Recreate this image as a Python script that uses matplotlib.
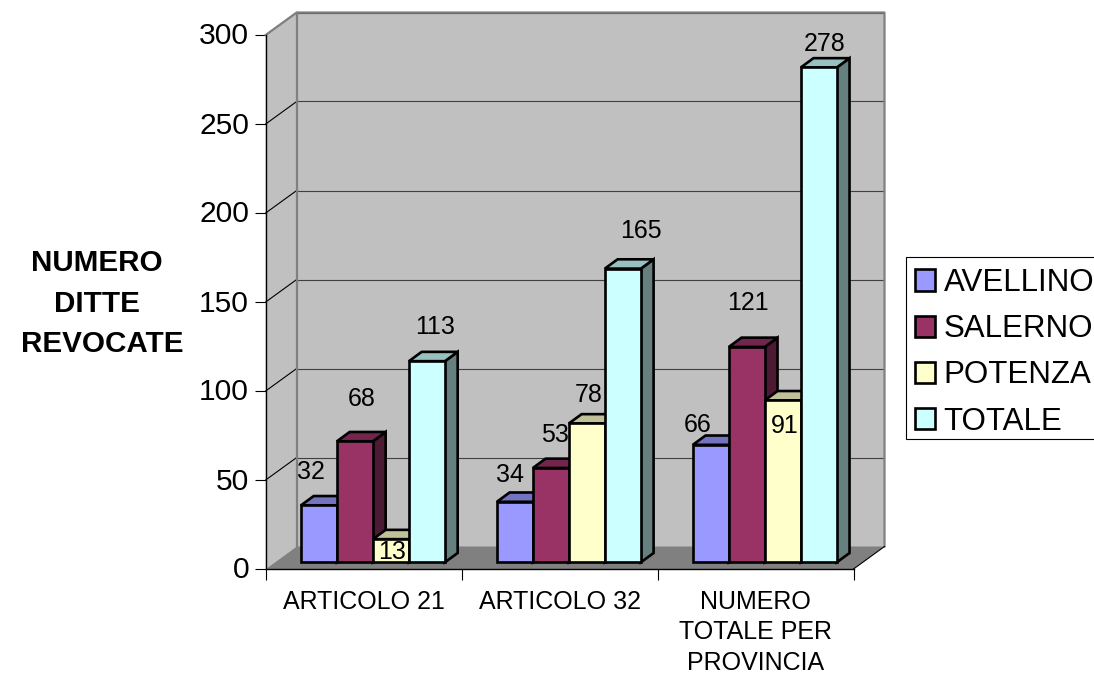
import matplotlib
matplotlib.use("Agg")
import matplotlib.pyplot as plt
from matplotlib.patches import Patch, Polygon, Rectangle
from matplotlib.transforms import ScaledTranslation

plt.rcParams['font.family'] = ['Liberation Sans', 'DejaVu Sans']

# === Data ===
categories = ["ARTICOLO 21", "ARTICOLO 32", "NUMERO\nTOTALE PER\nPROVINCIA"]
avellino = [32, 34, 66]
salerno = [68, 53, 121]
potenza = [13, 78, 91]
totale = [113, 165, 278]
series_names = ["AVELLINO", "SALERNO", "POTENZA", "TOTALE"]
y_ticks = [0, 50, 100, 150, 200, 250, 300]
y_title = ["NUMERO", "DITTE", "REVOCATE"]

# === Style ===
front_cols = ["#9999FF", "#993366", "#FFFFCC", "#CCFFFF"]
top_cols = ["#7373C0", "#73264D", "#C0C099", "#99C0C0"]
side_cols = ["#4D4D80", "#4D1A33", "#808066", "#668080"]

W, H = 1094, 674
left, right, y_bottom, y_top = 265.7, 853.5, 569, 35
px_x = 3 / (right - left)
px_y = 300 / (y_bottom - y_top)

# oblique depth of the box and of the bars, as data offsets
wall_dx, wall_dy = 31 * px_x, 22.5 * px_y
lift_dx, lift_dy = 9.3 * px_x, 6.7 * px_y
bar_dx, bar_dy = 12.7 * px_x, 9.3 * px_y
bar_w = 36 * px_x
edge_lw = 1.9

# label offset from the bar's top centre, in pixels
label_offsets = [
    [(-8, 33), (7, 42), (1, -13), (8, 34)],
    [(-5, 27), (4, 33), (2, 28), (18, 38)],
    [(-13, 20), (1, 44), (2, -26), (6, 23)],
]
# centre of each y title line, in pixels
title_pos = [(96.5, 263.5), (96.5, 304), (102, 343.5)]

fig = plt.figure(figsize=(W / 100, H / 100), dpi=100)
ax = fig.add_axes([left / W, 1 - y_bottom / H, (right - left) / W, (y_bottom - y_top) / H])
ax.set_xlim(0, 3)
ax.set_ylim(0, 300)
ax.patch.set_visible(False)

# === Walls and floor ===
ax.add_patch(Polygon([(0, 0), (0, 300), (wall_dx, 300 + wall_dy), (wall_dx, wall_dy)],
                     fc="#C0C0C0", ec="none", clip_on=False, zorder=1))
ax.add_patch(Polygon([(wall_dx, wall_dy), (wall_dx, 300 + wall_dy), (3 + wall_dx, 300 + wall_dy), (3 + wall_dx, wall_dy)],
                     fc="#C0C0C0", ec="none", clip_on=False, zorder=1))
ax.add_patch(Polygon([(0, 0), (3, 0), (3 + wall_dx, wall_dy), (wall_dx, wall_dy)],
                     fc="#808080", ec="none", clip_on=False, zorder=1))

for t in y_ticks[1:]:
    ax.plot([0, wall_dx], [t, t + wall_dy], color="black", lw=0.8, clip_on=False, zorder=2)
    ax.plot([wall_dx, 3 + wall_dx], [t + wall_dy, t + wall_dy], color="#404040", lw=0.8, clip_on=False, zorder=2)

# wall outline
ax.plot([0, wall_dx, 3 + wall_dx, 3 + wall_dx], [300, 300 + wall_dy, 300 + wall_dy, wall_dy],
        color="#808080", lw=1.6, clip_on=False, zorder=3)
ax.plot([wall_dx, wall_dx], [wall_dy, 300 + wall_dy], color="#808080", lw=1.6, clip_on=False, zorder=3)
ax.plot([3, 3 + wall_dx], [0, wall_dy], color="black", lw=0.8, clip_on=False, zorder=3)

# === Bars ===
series = [avellino, salerno, potenza, totale]
z = 4
for s, values in enumerate(series):
    for c, v in enumerate(values):
        x0 = c + 0.5 + lift_dx - 2 * bar_w + s * bar_w
        top = lift_dy + v
        ax.add_patch(Polygon([(x0 + bar_w, lift_dy), (x0 + bar_w + bar_dx, lift_dy + bar_dy),
                              (x0 + bar_w + bar_dx, top + bar_dy), (x0 + bar_w, top)],
                             fc=side_cols[s], ec="black", lw=edge_lw, clip_on=False, zorder=z, joinstyle="miter"))
        ax.add_patch(Polygon([(x0, top), (x0 + bar_dx, top + bar_dy),
                              (x0 + bar_w + bar_dx, top + bar_dy), (x0 + bar_w, top)],
                             fc=top_cols[s], ec="black", lw=edge_lw, clip_on=False, zorder=z, joinstyle="miter"))
        ax.bar(x0, v, bar_w, bottom=lift_dy, align="edge", color=front_cols[s], edgecolor="black",
               linewidth=edge_lw, clip_on=False, zorder=z)
    z += 1

# === Value labels ===
for s, values in enumerate(series):
    for c, v in enumerate(values):
        x0 = c + 0.5 + lift_dx - 2 * bar_w + s * bar_w
        ax.annotate(str(v), (x0 + bar_w / 2, lift_dy + v), xytext=label_offsets[c][s],
                    textcoords="offset pixels", ha="center", va="center", fontsize=18,
                    color="black", zorder=20, annotation_clip=False)

# === Axes ===
for name in ["top", "right"]:
    ax.spines[name].set_visible(False)
for name in ["left", "bottom"]:
    ax.spines[name].set_linewidth(1.0)
    ax.spines[name].set_zorder(3)
ax.set_yticks(y_ticks)
ax.set_xticks([0, 1, 2, 3])
ax.set_xticklabels([])
ax.set_xticks([0.5, 1.5, 2.5], labels=categories, minor=True, fontsize=18, linespacing=1.34)
ax.tick_params(axis="x", which="major", length=8, width=0.8, direction="out")
ax.tick_params(axis="x", which="minor", length=0, pad=15)
ax.tick_params(axis="y", length=8, width=0.8, labelsize=21.6, pad=4)
for lab in ax.get_yticklabels():
    lab.set_transform(lab.get_transform() + ScaledTranslation(0, 1.5 / 100, fig.dpi_scale_trans))

for line, (tx, ty) in zip(y_title, title_pos):
    fig.text(tx / W, 1 - ty / H, line, ha="center", va="center", fontsize=21.3, fontweight="bold")

# === Legend ===
# box runs off the right edge of the picture
fig.add_artist(Rectangle((905.7 / W, 1 - 439 / H), 200 / W, 182 / H, transform=fig.transFigure,
                         fc="white", ec="black", lw=0.8))
handles = [Patch(fc=col, ec="black", lw=edge_lw) for col in front_cols]
fig.legend(handles, series_names, loc="upper left", bbox_to_anchor=(903.7 / W, 1 - 257 / H),
           bbox_transform=fig.transFigure, borderaxespad=0, fontsize=22.5, frameon=False,
           handlelength=0.66, handleheight=0.66, handletextpad=0.27, labelspacing=0.52, borderpad=0.35)

fig.savefig("out.png", dpi=100)
